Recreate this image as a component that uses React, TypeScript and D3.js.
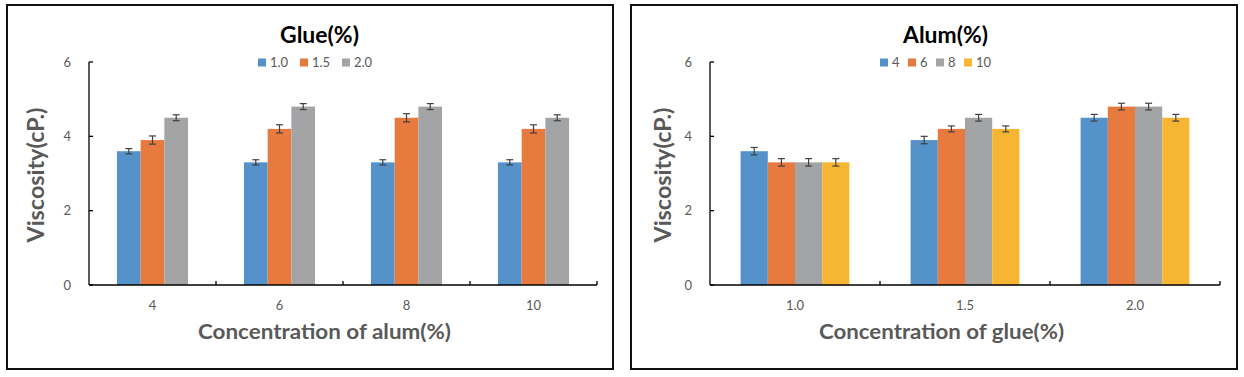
import React from "react";
import * as d3 from "d3";

// Left chart: x = alum concentration, series = glue
const alumCategories = ["4", "6", "8", "10"];
const glueSeries = ["1.0", "1.5", "2.0"];
const glueValues = [
  [3.6, 3.3, 3.3, 3.3],
  [3.9, 4.2, 4.5, 4.2],
  [4.5, 4.8, 4.8, 4.5],
];
const glueErrors = [
  [0.07, 0.07, 0.07, 0.07],
  [0.11, 0.11, 0.11, 0.11],
  [0.08, 0.08, 0.08, 0.08],
];

// Right chart: x = glue concentration, series = alum
const glueCategories = ["1.0", "1.5", "2.0"];
const alumSeries = ["4", "6", "8", "10"];
const alumValues = [
  [3.6, 3.9, 4.5],
  [3.3, 4.2, 4.8],
  [3.3, 4.5, 4.8],
  [3.3, 4.2, 4.5],
];
const alumErrors = [
  [0.1, 0.1, 0.09],
  [0.1, 0.08, 0.09],
  [0.1, 0.09, 0.09],
  [0.1, 0.08, 0.09],
];

const yTicks = [0, 2, 4, 6];
const colors = ["#5592CA", "#E77A3F", "#A2A4A6", "#F6B533"];
const FONT = "Lato, 'Liberation Sans', sans-serif";
const TEXT_GRAY = "#595959";

type PanelProps = {
  rectX: number;
  px0: number;
  px1: number;
  title: string;
  titleCx: number;
  titleLen: number;
  xTitle: string;
  xTitleCx: number;
  xTitleLen: number;
  yTitleX: number;
  categories: string[];
  series: string[];
  values: number[][];
  errors: number[][];
  groupFrac: number;
  legendStart: number;
};

function Panel(p: PanelProps) {
  const { px0, px1 } = p;
  const yTop = 62;
  const yBot = 285;
  const x = d3.scaleBand<string>().domain(p.categories).range([px0, px1]);
  const bw = x.bandwidth();
  const gw = bw * p.groupFrac;
  const xs = d3
    .scaleBand<string>()
    .domain(p.series)
    .range([(bw - gw) / 2, (bw + gw) / 2]);
  const y = d3.scaleLinear().domain([0, 6]).range([yBot, yTop]);

  let lx = p.legendStart;
  const legendItems = p.series.map((s, i) => {
    const item = { s, i, x: lx };
    lx += 8 + 3 + s.length * 7 + 10;
    return item;
  });

  return (
    <g>
      <rect x={p.rectX} y={5} width={606} height={364} fill="#fff" stroke="#111" strokeWidth={2} />
      <text
        x={p.titleCx}
        y={43}
        textAnchor="middle"
        fontFamily={FONT}
        fontWeight="bold"
        fontSize={22}
        fill="#000"
        textLength={p.titleLen}
        lengthAdjust="spacingAndGlyphs"
      >
        {p.title}
      </text>
      {legendItems.map((it) => (
        <g key={it.s}>
          <rect x={it.x} y={58.5} width={8} height={8} fill={colors[it.i]} />
          <text x={it.x + 12} y={67} fontFamily={FONT} fontSize={13} fill={TEXT_GRAY}>
            {it.s}
          </text>
        </g>
      ))}
      {p.series.map((s, si) =>
        p.categories.map((c, ci) => {
          const v = p.values[si][ci];
          const bx = (x(c) as number) + (xs(s) as number);
          return (
            <rect
              key={s + c}
              x={bx}
              y={y(v)}
              width={xs.bandwidth()}
              height={yBot - y(v)}
              fill={colors[si]}
            />
          );
        })
      )}
      {p.series.map((s, si) =>
        p.categories.map((c, ci) => {
          const v = p.values[si][ci];
          const e = p.errors[si][ci];
          const cx = (x(c) as number) + (xs(s) as number) + xs.bandwidth() / 2;
          return (
            <g key={"e" + s + c} stroke="#404040" strokeWidth={1.2}>
              <line x1={cx} x2={cx} y1={y(v + e)} y2={y(v - e)} />
              <line x1={cx - 3.5} x2={cx + 3.5} y1={y(v + e)} y2={y(v + e)} />
              <line x1={cx - 3.5} x2={cx + 3.5} y1={y(v - e)} y2={y(v - e)} />
            </g>
          );
        })
      )}
      <line x1={px0} x2={px0} y1={yTop} y2={yBot} stroke="#000" strokeWidth={1.3} />
      <line x1={px0} x2={px1} y1={yBot} y2={yBot} stroke="#000" strokeWidth={1.3} />
      {yTicks.map((t) => (
        <g key={"yt" + t}>
          <line x1={px0} x2={px0 + 4} y1={y(t)} y2={y(t)} stroke="#000" strokeWidth={1.3} />
          <text
            x={px0 - 18}
            y={y(t) + 4.5}
            textAnchor="end"
            fontFamily={FONT}
            fontSize={13}
            fill={TEXT_GRAY}
          >
            {t}
          </text>
        </g>
      ))}
      {p.categories.map((c) => (
        <g key={"xt" + c}>
          <line
            x1={(x(c) as number) + bw}
            x2={(x(c) as number) + bw}
            y1={yBot}
            y2={yBot - 4}
            stroke="#000"
            strokeWidth={1.3}
          />
          <text
            x={(x(c) as number) + bw / 2}
            y={310}
            textAnchor="middle"
            fontFamily={FONT}
            fontSize={13}
            fill={TEXT_GRAY}
          >
            {c}
          </text>
        </g>
      ))}
      <text
        x={p.xTitleCx}
        y={339}
        textAnchor="middle"
        fontFamily={FONT}
        fontWeight="bold"
        fontSize={21}
        fill={TEXT_GRAY}
        textLength={p.xTitleLen}
        lengthAdjust="spacingAndGlyphs"
      >
        {p.xTitle}
      </text>
      <text
        transform={`translate(${p.yTitleX},${175}) rotate(-90)`}
        textAnchor="middle"
        fontFamily={FONT}
        fontWeight="bold"
        fontSize={22}
        fill={TEXT_GRAY}
        textLength={135}
        lengthAdjust="spacingAndGlyphs"
      >
        Viscosity(cP.)
      </text>
    </g>
  );
}

export default function App() {
  return (
    <svg
      width={1244}
      height={377}
      style={{ position: "absolute", left: 0, top: 0, display: "block" }}
    >
      <rect x={0} y={0} width={1244} height={377} fill="#fff" />
      <Panel
        rectX={7}
        px0={89}
        px1={597}
        title="Glue(%)"
        titleCx={319.5}
        titleLen={79}
        xTitle="Concentration of alum(%)"
        xTitleCx={324.5}
        xTitleLen={253}
        yTitleX={44}
        categories={alumCategories}
        series={glueSeries}
        values={glueValues}
        errors={glueErrors}
        groupFrac={0.56}
        legendStart={258}
      />
      <Panel
        rectX={631}
        px0={710}
        px1={1220}
        title="Alum(%)"
        titleCx={945.5}
        titleLen={85}
        xTitle="Concentration of glue(%)"
        xTitleCx={941.5}
        xTitleLen={245}
        yTitleX={671}
        categories={glueCategories}
        series={alumSeries}
        values={alumValues}
        errors={alumErrors}
        groupFrac={0.64}
        legendStart={880}
      />
    </svg>
  );
}
